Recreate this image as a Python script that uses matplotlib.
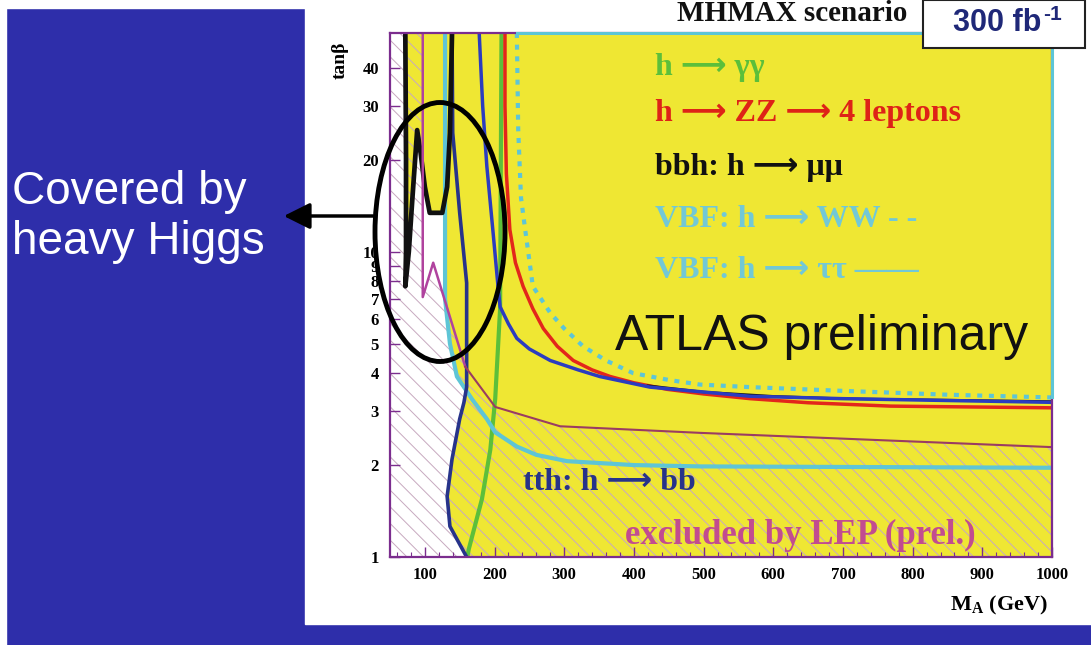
import matplotlib
matplotlib.use("Agg")
import matplotlib.pyplot as plt
from matplotlib.patches import Rectangle, Ellipse, FancyArrowPatch
from matplotlib.ticker import MultipleLocator, NullLocator

plt.rcParams["hatch.linewidth"] = 0.7
plt.rcParams["mathtext.fontset"] = "custom"
plt.rcParams["mathtext.rm"] = "Liberation Serif"
plt.rcParams["mathtext.bf"] = "Liberation Serif:bold"

W, H, DPI = 1091, 645, 100
SERIF = ["Liberation Serif", "DejaVu Sans"]
SANS = ["Liberation Sans", "DejaVu Sans"]

# ---- axis ranges and ticks ----
ma_lim = (50, 1000)
tb_lim = (1, 52)
ma_ticks = [100, 200, 300, 400, 500, 600, 700, 800, 900, 1000]
tb_ticks = [1, 2, 3, 4, 5, 6, 7, 8, 9, 10, 20, 30, 40]

# ---- 5 sigma discovery contours (M_A in GeV, tan beta) ----
gamgam_ma = [210, 208, 201, 194, 182, 163, 161]
gamgam_tb = [52, 6.5, 3.3, 2.25, 1.55, 1.06, 1.0]

zz4l_ma = [215, 215, 217, 222, 230, 241, 255, 270, 290, 313, 340, 366, 400, 448, 500, 567, 650, 768, 1000]
zz4l_tb = [52, 30, 18, 11.8, 9.2, 7.7, 6.5, 5.6, 4.9, 4.4, 4.1, 3.9, 3.72, 3.54, 3.42, 3.3, 3.2, 3.12, 3.08]

bbh_mumu_ma = [72, 73, 73, 72, 77, 82, 89, 94, 100, 107, 125, 132, 136, 139]
bbh_mumu_tb = [52, 20, 10, 7.7, 10, 14.8, 25, 21, 16.3, 13.4, 13.4, 16.3, 24.5, 52]
bbh_mumu_hi_ma = [420, 500, 600, 700, 1000]
bbh_mumu_hi_tb = [3.64, 3.47, 3.36, 3.3, 3.23]

vbf_ww_ma = [232, 234, 238, 244, 255, 280, 300, 327, 360, 399, 450, 495, 567, 700, 850, 1000]
vbf_ww_tb = [52, 25, 15, 11.8, 7.7, 6.3, 5.6, 4.9, 4.4, 4.0, 3.8, 3.67, 3.6, 3.5, 3.4, 3.33]

vbf_tautau_ma = [129, 129, 129, 136, 146, 168, 189, 201, 232, 260, 304, 400, 495, 1000]
vbf_tautau_tb = [52, 15, 7.0, 5.0, 3.9, 3.28, 2.83, 2.56, 2.3, 2.16, 2.06, 2.0, 1.98, 1.96]

heavy_ma = [178, 183, 189, 198, 205, 208, 220, 232, 250, 280, 320, 351, 423, 500, 567, 700, 1000]
heavy_tb = [52, 30, 19, 11.5, 7.7, 6.6, 5.8, 5.2, 4.8, 4.4, 4.1, 3.9, 3.6, 3.47, 3.36, 3.3, 3.21]

tth_bb_ma = [139, 140, 150, 160, 160, 156, 150, 139, 132, 136, 160]
tth_bb_tb = [52, 24.5, 13.4, 7.9, 3.6, 3.2, 2.83, 2.09, 1.58, 1.26, 1.0]

# LEP exclusion boundary
lep_ma = [97, 97, 112, 158, 201, 294, 495, 1000]
lep_tb = [52, 7.1, 9.2, 4.2, 3.1, 2.68, 2.55, 2.29]

# parameter space not reached by any channel
gap_ma = [50, 50, 72, 73, 73, 72, 77, 82, 89, 100, 107, 125, 129, 129, 136, 146, 160, 156, 150, 139, 132, 136, 160]
gap_tb = [1, 52, 52, 20, 10, 7.7, 10, 14.8, 25, 16.3, 13.4, 13.4, 14.7, 7.0, 5.0, 3.9, 3.45, 3.2, 2.83, 2.09, 1.58, 1.26, 1.0]

YELLOW = "#efe733"
GREEN = "#5cbf3a"
RED = "#e3261b"
CYAN = "#5ec5d6"
NAVY = "#27338a"
BLUE = "#2b3cc0"
LEPCOL = "#b0439e"
LEPCOL2 = "#9a3c62"
FRAME = "#7b2d8e"
SLIDE = "#2e2eaa"
ARROW = "⟶"


def fx(px):
    return px / W


def fy(py):
    return 1 - py / H


fig = plt.figure(figsize=(W / DPI, H / DPI), dpi=DPI)
fig.patch.set_facecolor(SLIDE)

# slide margins and the white panel carrying the plot
fig.add_artist(Rectangle((0, 0), fx(6), 1, transform=fig.transFigure, color="white", zorder=-5))
fig.add_artist(Rectangle((0, fy(8)), fx(305), 8 / H, transform=fig.transFigure, color="white", zorder=-5))
fig.add_artist(Rectangle((fx(305), fy(624)), 1 - fx(305), 624 / H, transform=fig.transFigure,
                         color="white", zorder=-5))

ax = fig.add_axes([fx(390), fy(557), fx(1052) - fx(390), (557 - 33) / H])
ax.set_xlim(*ma_lim)
ax.set_yscale("log")
ax.set_ylim(*tb_lim)
ax.set_facecolor(YELLOW)

# uncovered region and LEP exclusion hatching
ax.fill(gap_ma, gap_tb, facecolor="white", lw=0, zorder=1)
lep_reg_ma = [50, 50] + lep_ma + [1000]
lep_reg_tb = [1, 52] + lep_tb + [1]
ax.fill(lep_reg_ma, lep_reg_tb, facecolor="none", edgecolor="#c7a9bf", hatch="\\\\", lw=0, zorder=1.5)

# contours
ax.plot(gamgam_ma, gamgam_tb, color=GREEN, lw=3.0, zorder=3)
ax.plot(zz4l_ma, zz4l_tb, color=RED, lw=2.5, zorder=3)
ax.plot(vbf_ww_ma, vbf_ww_tb, color=CYAN, lw=3.0, ls=(0, (1.2, 1.6)), zorder=3)
ax.plot(vbf_tautau_ma, vbf_tautau_tb, color=CYAN, lw=3.0, zorder=3)
ax.plot(heavy_ma, heavy_tb, color=BLUE, lw=2.5, zorder=3.2)
ax.plot(bbh_mumu_hi_ma, bbh_mumu_hi_tb, color="#151515", lw=1.8, zorder=3.1)
ax.plot(tth_bb_ma, tth_bb_tb, color=NAVY, lw=2.6, zorder=3.3)
ax.plot(bbh_mumu_ma, bbh_mumu_tb, color="#111111", lw=3.4, zorder=3.4)
ax.plot(lep_ma[:4], lep_tb[:4], color=LEPCOL, lw=1.8, zorder=3.5)
ax.plot(lep_ma[3:], lep_tb[3:], color=LEPCOL2, lw=1.5, zorder=3.5)

# WW contour running along the upper and right frame
ax.plot([vbf_ww_ma[0], ma_lim[1]], [tb_lim[1], tb_lim[1]], color=CYAN, lw=2.2, zorder=4, clip_on=False)
ax.plot([ma_lim[1], ma_lim[1]], [tb_lim[1], vbf_ww_tb[-1]], color=CYAN, lw=2.2, zorder=4, clip_on=False)

for s in ax.spines.values():
    s.set_color(FRAME)
    s.set_linewidth(1.6)
    s.set_zorder(3.9)

ax.set_xticks(ma_ticks)
ax.set_xticklabels([str(v) for v in ma_ticks])
ax.xaxis.set_minor_locator(MultipleLocator(20))
ax.set_yticks(tb_ticks)
ax.set_yticklabels([str(v) for v in tb_ticks])
ax.yaxis.set_minor_locator(NullLocator())
ax.tick_params(which="both", direction="in", color=FRAME, top=False, right=False)
ax.tick_params(which="major", length=7, width=1)
ax.tick_params(which="minor", length=3.5, width=0.8)
ax.tick_params(axis="x", pad=7)
ax.tick_params(axis="y", pad=8)
for lab in ax.get_xticklabels() + ax.get_yticklabels():
    lab.set_fontfamily(SERIF)
    lab.set_fontweight("bold")
    lab.set_fontsize(12)

# axis titles
fig.text(fx(1048), fy(605), r"$\mathbf{M}_{\mathbf{A}}$ (GeV)", ha="right", va="center",
         fontsize=16, fontweight="bold", family=SERIF)
fig.text(fx(340), fy(60), "tanβ", rotation=90, ha="center", va="center",
         fontsize=14, fontweight="bold", family=SERIF)

# scenario title and luminosity box
fig.text(fx(907), fy(21), "MHMAX scenario", ha="right", va="baseline",
         fontsize=21, fontweight="bold", family=SERIF, color="#111111")
fig.add_artist(Rectangle((fx(923), fy(48)), fx(1085) - fx(923), 48 / H, transform=fig.transFigure,
                         facecolor="white", edgecolor="#222222", lw=1.5, zorder=6))
fig.text(fx(1041), fy(23), "300 fb", ha="right", va="center", fontsize=22, fontweight="bold",
         family=SANS, color="#1f2878", zorder=7)
fig.text(fx(1043), fy(15), "-1", ha="left", va="center", fontsize=15, fontweight="bold",
         family=SANS, color="#1f2878", zorder=7)

# channel labels
legend_rows = [
    (f"h {ARROW} γγ", GREEN, 67),
    (f"h {ARROW} ZZ {ARROW} 4 leptons", "#de2317", 113),
    (f"bbh: h {ARROW} μμ", "#111111", 168),
    (f"VBF: h {ARROW} WW - -", "#72c8d6", 220),
    (f"VBF: h {ARROW} ττ ——", "#72c8d6", 270),
]
for txt, col, ypx in legend_rows:
    fig.text(fx(655), fy(ypx), txt, ha="left", va="center", fontsize=23, fontweight="bold",
             family=SERIF, color=col, zorder=6)

fig.text(fx(615), fy(337), "ATLAS preliminary", ha="left", va="center", fontsize=36,
         family=SANS, color="#111111", zorder=6)
fig.text(fx(523), fy(482), f"tth: h {ARROW} bb", ha="left", va="center", fontsize=23, fontweight="bold",
         family=SERIF, color=NAVY, zorder=6)
fig.text(fx(625), fy(535), "excluded by LEP (prel.)", ha="left", va="center", fontsize=25,
         fontweight="bold", family=SERIF, color="#c24c90", zorder=6)

# annotation of the region reached by the heavy Higgs searches
fig.add_artist(Ellipse((fx(440), fy(232)), 130 / W, 259 / H, transform=fig.transFigure,
                       facecolor="none", edgecolor="black", lw=3.5, zorder=8))
fig.add_artist(FancyArrowPatch((fx(376), fy(216)), (fx(281), fy(216)), transform=fig.transFigure,
                               arrowstyle="-|>,head_length=0.8,head_width=0.4", mutation_scale=20,
                               color="black", lw=2.5, zorder=8))
fig.text(fx(12), fy(217), "Covered by\nheavy Higgs", ha="left", va="center", fontsize=33,
         family=SANS, color="white", linespacing=1.15, zorder=8)

fig.savefig("out.png", dpi=DPI, facecolor=fig.get_facecolor())
